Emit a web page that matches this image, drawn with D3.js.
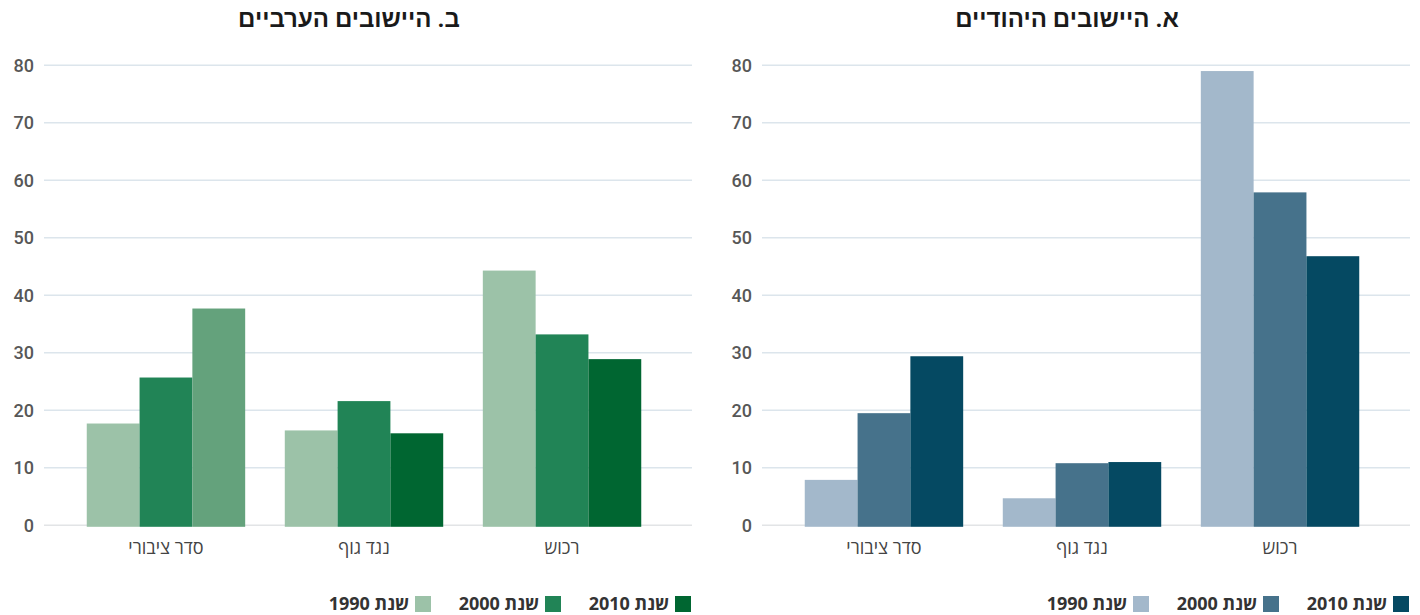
<!DOCTYPE html>
<html>
<head>
<meta charset="utf-8">
<script src="https://cdn.jsdelivr.net/npm/d3@7"></script>
<style>
    body { margin: 0; background: #fff; }
    svg { display: block; }
    .title { font-family: "Liberation Sans Narrow", "Roboto", "Liberation Sans", sans-serif; font-weight: bold; font-size: 24px; fill: #1a1a1a; }
    .ytick { font-family: "Roboto", sans-serif; font-weight: 500; font-size: 18px; fill: #575757; }
    .cat { font-family: "Open Sans", "Liberation Sans", sans-serif; font-size: 18px; fill: #444; }
    .legend { font-family: "Open Sans", "Liberation Sans", sans-serif; font-weight: bold; font-size: 18px; fill: #333; }
</style>
</head>
<body>
<div id="chart"></div>
<script>
// categories, left to right
const categories = ["סדר ציבורי", "נגד גוף", "רכוש"];
const years = ["שנת 1990", "שנת 2000", "שנת 2010"];
const yTicks = [0, 10, 20, 30, 40, 50, 60, 70, 80];

// ב. היישובים הערביים
const arabTitle = "ב. היישובים הערביים";
const arab1990 = [17.7, 16.5, 44.3];
const arab2000 = [25.7, 21.6, 33.2];
const arab2010 = [37.7, 16.0, 28.9];

// א. היישובים היהודיים
const jewishTitle = "א. היישובים היהודיים";
const jewish1990 = [7.9, 4.7, 79.0];
const jewish2000 = [19.5, 10.8, 57.9];
const jewish2010 = [29.4, 11.0, 46.8];

const width = 1420, height = 615;

const svg = d3.select("#chart").append("svg")
    .attr("width", width)
    .attr("height", height);

const y = d3.scaleLinear().domain([0, 80]).range([525.3, 65.3]);

function drawPanel(x0, title, series, colors, specialColor) {
    const g = svg.append("g").attr("transform", `translate(${x0}, 0)`);

    const x = d3.scaleBand()
        .domain(categories)
        .range([62, 666])
        .paddingInner(0.2)
        .paddingOuter(0.125);
    const xi = d3.scaleBand()
        .domain(years)
        .range([0, x.bandwidth()]);

    g.append("text")
        .attr("class", "title")
        .attr("x", 349)
        .attr("y", 27)
        .attr("direction", "rtl")
        .attr("text-anchor", "middle")
        .text(title);

    // grid
    g.selectAll("line.grid").data(yTicks).join("line")
        .attr("class", "grid")
        .attr("x1", 44).attr("x2", 692)
        .attr("y1", d => y(d)).attr("y2", d => y(d))
        .attr("stroke", d => d === 0 ? "#e2e4e6" : "#dce5ec")
        .attr("stroke-width", 1.6);

    g.selectAll("text.ytick").data(yTicks).join("text")
        .attr("class", "ytick")
        .attr("x", 34)
        .attr("y", d => y(d))
        .attr("dy", "0.36em")
        .attr("text-anchor", "end")
        .text(d => d);

    const rows = [];
    years.forEach((yr, si) => {
        categories.forEach((c, ci) => {
            rows.push({ cat: c, year: yr, si: si, ci: ci, value: series[si][ci] });
        });
    });

    g.selectAll("rect.bar").data(rows).join("rect")
        .attr("class", "bar")
        .attr("x", d => x(d.cat) + xi(d.year))
        .attr("width", xi.bandwidth())
        .attr("y", d => y(d.value))
        .attr("height", d => y(0) - y(d.value) + 1.5)
        .attr("fill", d => (specialColor && d.ci === 0 && d.si === 2) ? specialColor : colors[d.si]);

    g.selectAll("text.cat").data(categories).join("text")
        .attr("class", "cat")
        .attr("x", d => x(d) + x.bandwidth() / 2)
        .attr("y", 554)
        .attr("direction", "rtl")
        .attr("text-anchor", "middle")
        .text(d => d);

    // legend, from right to left: 2010, 2000, 1990
    const legendRight = [431, 561, 691];
    const lg = g.selectAll("g.leg").data(years).join("g")
        .attr("class", "leg")
        .attr("transform", (d, i) => `translate(${legendRight[i]}, 0)`);
    lg.append("rect")
        .attr("x", -16).attr("y", 596)
        .attr("width", 16).attr("height", 16)
        .attr("fill", (d, i) => colors[i]);
    lg.append("text")
        .attr("class", "legend")
        .attr("x", -22)
        .attr("y", 610)
        .attr("direction", "rtl")
        .attr("text-anchor", "start")
        .text(d => d);
}

drawPanel(0, arabTitle, [arab1990, arab2000, arab2010],
    ["#9cc2a8", "#218456", "#006631"], "#64a27c");
drawPanel(718, jewishTitle, [jewish1990, jewish2000, jewish2010],
    ["#a3b8cb", "#46728b", "#054962"]);
</script>
</body>
</html>
